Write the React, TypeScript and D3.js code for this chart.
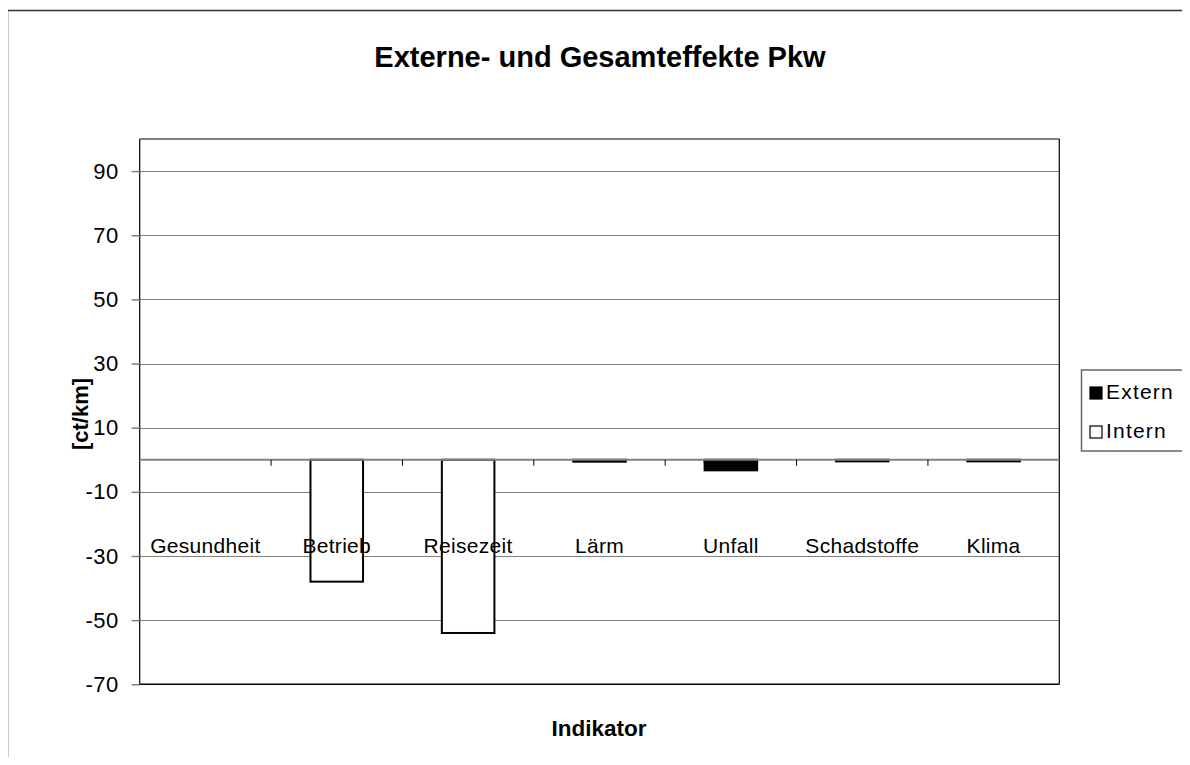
import React, { useEffect, useRef } from 'react';
import * as d3 from 'd3';

// categories and values
const categories = ['Gesundheit', 'Betrieb', 'Reisezeit', 'Lärm', 'Unfall', 'Schadstoffe', 'Klima'];
const internValues = [0, -38, -54, 0, -0.6, 0, 0];
const externValues = [0, 0, 0, -0.6, -2.7, -0.5, -0.5];
const yTicks = [-70, -50, -30, -10, 10, 30, 50, 70, 90];
const seriesNames = ['Extern', 'Intern'];

const FONT = "'Liberation Sans', Arial, sans-serif";

const Chart = () => {
  const svgRef = useRef<SVGSVGElement>(null);

  useEffect(() => {
    const svg = d3.select(svgRef.current);
    svg.selectAll('*').remove();

    const left = 139.7, right = 1059.3, top = 139, bottom = 684.3;

    const x = d3.scaleBand<string>().domain(categories).range([left, right]).padding(0);
    const y = d3.scaleLinear().domain([-70, 100]).range([bottom, top]);
    const barW = x.bandwidth() / 2.5;

    // outer frame
    svg.append('rect')
      .attr('x', 7.5).attr('y', 10.5).attr('width', 1300).attr('height', 900)
      .attr('fill', 'none').attr('stroke', '#333').attr('stroke-width', 1.5);

    // title
    svg.append('text')
      .attr('x', 600).attr('y', 67).attr('text-anchor', 'middle')
      .attr('font-family', FONT).attr('font-weight', 'bold').attr('font-size', 29)
      .text('Externe- und Gesamteffekte Pkw');

    // gridlines
    svg.append('g').selectAll('line').data(yTicks).join('line')
      .attr('x1', left).attr('x2', right)
      .attr('y1', d => Math.round(y(d)) + 0.5).attr('y2', d => Math.round(y(d)) + 0.5)
      .attr('stroke', '#808080').attr('stroke-width', 1);

    // plot border
    svg.append('line').attr('x1', left).attr('x2', right).attr('y1', top).attr('y2', top)
      .attr('stroke', '#808080').attr('stroke-width', 2);
    svg.append('line').attr('x1', right).attr('x2', right).attr('y1', top).attr('y2', bottom)
      .attr('stroke', '#000').attr('stroke-width', 1.2);

    // y axis
    const yAxis = svg.append('g')
      .attr('transform', `translate(${left},0)`)
      .call(d3.axisLeft(y).tickValues(yTicks).tickSize(8).tickPadding(13).tickFormat(d => String(d)));
    yAxis.select('.domain').attr('stroke', '#000').attr('stroke-width', 1.2)
      .attr('d', `M0,${top}V${bottom}`);
    yAxis.selectAll('.tick line').attr('stroke', '#808080').attr('stroke-width', 1.5);
    yAxis.selectAll('.tick text')
      .attr('font-family', FONT).attr('font-size', 22).attr('letter-spacing', 0.5).attr('fill', '#000');

    // bottom border
    svg.append('line').attr('x1', left).attr('x2', right).attr('y1', bottom).attr('y2', bottom)
      .attr('stroke', '#000').attr('stroke-width', 1.5);

    // stacked bars: intern first, extern below it
    const rows = categories.map((c, i) => ({
      c,
      intern: internValues[i],
      extern: externValues[i],
    }));
    const stack = d3.stack<any>().keys(['intern', 'extern']).offset(d3.stackOffsetDiverging);
    const layers = stack(rows);
    const fills: Record<string, string> = { intern: '#fff', extern: '#000' };

    layers.forEach(layer => {
      svg.append('g').selectAll('rect')
        .data(layer.filter(d => d[0] !== d[1]))
        .join('rect')
        .attr('x', d => (x(d.data.c) as number) + (x.bandwidth() - barW) / 2)
        .attr('width', barW)
        .attr('y', d => y(Math.max(d[0], d[1])))
        .attr('height', d => Math.abs(y(d[0]) - y(d[1])))
        .attr('fill', fills[layer.key])
        .attr('stroke', '#000').attr('stroke-width', 2);
    });

    // x axis at zero
    const x0 = y(0);
    svg.append('line').attr('x1', left).attr('x2', right).attr('y1', x0).attr('y2', x0)
      .attr('stroke', '#808080').attr('stroke-width', 2);
    svg.append('g').selectAll('line').data(categories.slice(1)).join('line')
      .attr('x1', d => x(d) as number).attr('x2', d => x(d) as number)
      .attr('y1', x0).attr('y2', x0 + 6)
      .attr('stroke', '#000').attr('stroke-width', 1);

    // category labels
    svg.append('g').selectAll('text').data(categories).join('text')
      .attr('x', d => (x(d) as number) + x.bandwidth() / 2)
      .attr('y', 553)
      .attr('text-anchor', 'middle')
      .attr('font-family', FONT).attr('font-size', 21).attr('letter-spacing', 0.3)
      .text(d => d);

    // axis titles
    svg.append('text')
      .attr('x', 599).attr('y', 736).attr('text-anchor', 'middle')
      .attr('font-family', FONT).attr('font-weight', 'bold').attr('font-size', 22.5)
      .text('Indikator');
    svg.append('text')
      .attr('transform', `translate(88,414) rotate(-90)`).attr('text-anchor', 'middle')
      .attr('font-family', FONT).attr('font-weight', 'bold').attr('font-size', 22)
      .text('[ct/km]');

    // legend
    const lg = svg.append('g');
    lg.append('rect').attr('x', 1081.5).attr('y', 370).attr('width', 105).attr('height', 81)
      .attr('fill', '#fff').attr('stroke', '#666').attr('stroke-width', 1.5);
    seriesNames.forEach((name, i) => {
      const yy = 387 + i * 39;
      lg.append('rect').attr('x', 1090).attr('y', yy).attr('width', 12).attr('height', 12)
        .attr('fill', name === 'Extern' ? '#000' : '#fff').attr('stroke', '#000').attr('stroke-width', 1.2);
      lg.append('text').attr('x', 1106).attr('y', yy + 12)
        .attr('font-family', FONT).attr('font-size', 21).attr('letter-spacing', 1.2).text(name);
    });
  }, []);

  return <svg ref={svgRef} width={1190} height={765} style={{ display: 'block' }} />;
};

export default function App() {
  return (
    <div style={{ margin: -8, width: 1190, height: 765, overflow: 'hidden', background: '#fff' }}>
      <Chart />
    </div>
  );
}
